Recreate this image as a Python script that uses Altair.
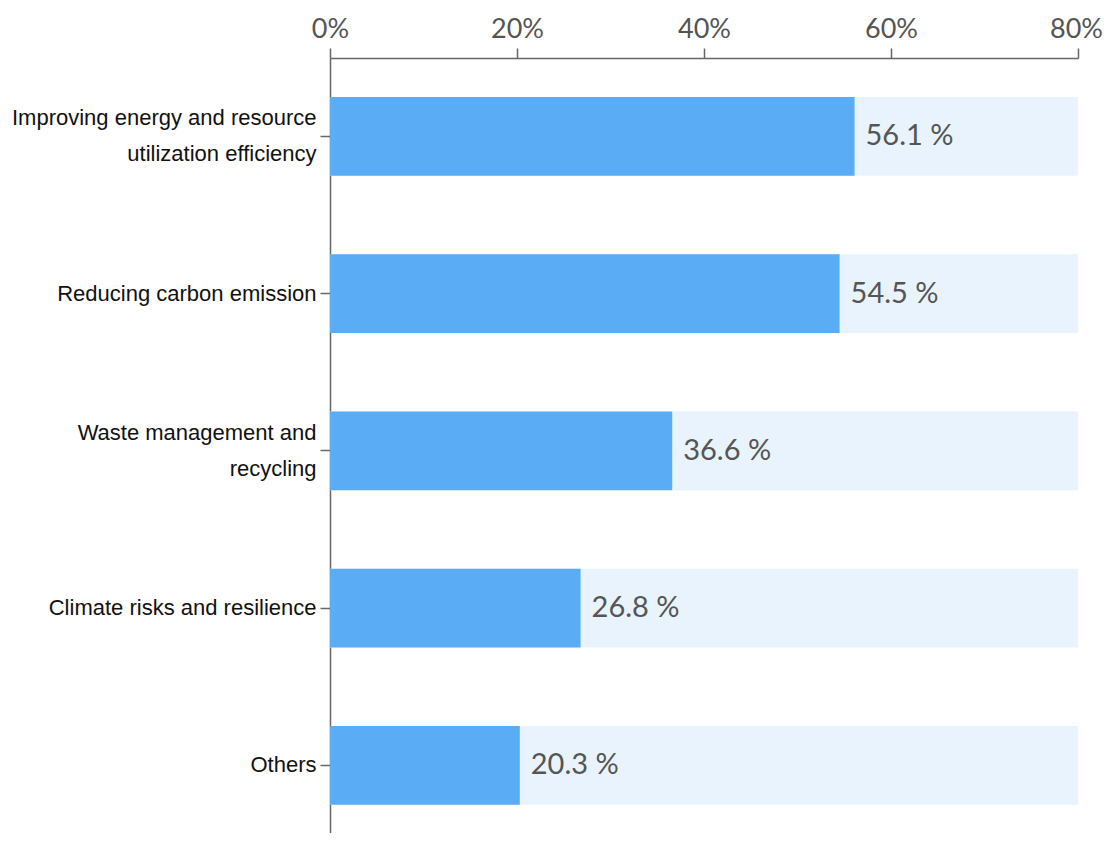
import altair as alt
import pandas as pd

categories = [
    "Improving energy and resource\nutilization efficiency",
    "Reducing carbon emission",
    "Waste management and\nrecycling",
    "Climate risks and resilience",
    "Others",
]
values = [56.1, 54.5, 36.6, 26.8, 20.3]
axis_max = 80
tick_values = [0, 20, 40, 60, 80]

df = pd.DataFrame({
    "category": categories,
    "value": values,
    "full": [axis_max] * len(categories),
    "label": [f"{v:.1f} %" for v in values],
})

y_scale = alt.Scale(domain=categories, paddingInner=0.5, paddingOuter=0.2143, align=0.579)
x_scale = alt.Scale(domain=[0, axis_max], nice=False, zero=True)

y_enc = alt.Y(
    "category:N",
    scale=y_scale,
    sort=categories,
    axis=alt.Axis(
        title=None,
        labelExpr="split(datum.label, '\\n')",
        labelFont="Liberation Sans",
        labelFontSize=22,
        labelColor="#111111",
        labelLineHeight=36,
        labelOffset={"condition": {"test": "indexof(datum.value, '\\n') >= 0", "value": -18}, "value": 0},
        labelPadding=4,
        labelLimit=400,
        tickSize=10,
        tickColor="#666666",
        domainColor="#666666",
        tickWidth=1.5,
        domainWidth=1.5,
        labelBaseline="middle",
    ),
)

x_axis = alt.Axis(
    orient="top",
    title=None,
    values=tick_values,
    labelExpr="datum.value + '%'",
    labelFont="Lato",
    labelFontSize=27,
    labelColor="#555555",
    labelPadding=5,
    labelOffset={"condition": {"test": "datum.value == 80", "value": -2}, "value": 0},
    tickSize=10,
    tickColor="#666666",
    domainColor="#666666",
    tickWidth=1.5,
    domainWidth=1.5,
    grid=False,
    labelFlush=False,
    labelBound=False,
)

bg = alt.Chart(df).mark_bar(color="#e8f3fe").encode(
    y=y_enc,
    x=alt.X("full:Q", scale=x_scale, axis=x_axis),
)

bars = alt.Chart(df).mark_bar(color="#5aadf5").encode(
    y=alt.Y("category:N", scale=y_scale, sort=categories),
    x=alt.X("value:Q", scale=x_scale),
)

text = alt.Chart(df).mark_text(
    align="left", baseline="middle", dx=11, font="Lato", fontSize=29, color="#555555"
).encode(
    y=alt.Y("category:N", scale=y_scale, sort=categories),
    x=alt.X("value:Q", scale=x_scale),
    text="label:N",
)

chart = alt.layer(bg, bars, text).properties(
    width=748,
    height=775,
    background="white",
    autosize=alt.AutoSizeParams(type="none"),
    padding={"left": 322, "top": 50, "right": 25, "bottom": 0},
).configure_view(stroke=None)

chart.save("out.html", embed_options={"renderer": "svg", "actions": False})
